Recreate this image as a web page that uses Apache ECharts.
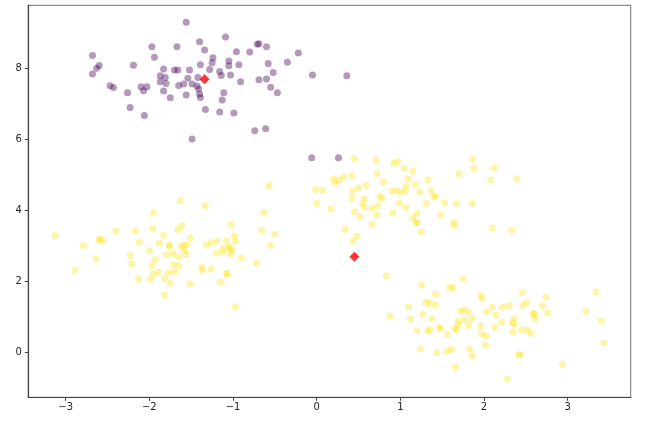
<!DOCTYPE html>
<html>
<head>
    <meta charset="utf-8">
    <title>KMeans scatter</title>
    <script src="https://cdn.jsdelivr.net/npm/echarts@6/dist/echarts.min.js"></script>
    <style>
        html, body { margin: 0; padding: 0; background: #fff; }
        #chart { width: 652px; height: 425px; }
    </style>
</head>
<body>
<div id="chart"></div>
<script>
    // cluster 0 (purple)
    var purplePts = [
        [-1.56, 9.31], [-1.40, 8.76], [-1.97, 8.62], [-1.67, 8.62], [-1.34, 8.53], [-2.68, 8.37],
        [-1.94, 8.32], [-1.24, 8.31], [-1.25, 8.17], [-2.60, 8.09], [-2.19, 8.10], [-1.39, 8.11],
        [-2.63, 8.01], [-1.83, 7.99], [-1.70, 7.96], [-1.66, 7.96], [-1.52, 7.96], [-1.28, 7.98],
        [-1.16, 7.92], [-2.68, 7.85], [-1.87, 7.80], [-1.81, 7.75], [-1.54, 7.73], [-1.42, 7.75],
        [-1.87, 7.63], [-1.80, 7.58], [-1.65, 7.53], [-1.59, 7.57], [-1.49, 7.57], [-1.43, 7.51],
        [-2.47, 7.52], [-2.43, 7.47], [-2.10, 7.49], [-2.07, 7.38], [-2.03, 7.49], [-1.41, 7.43],
        [-1.83, 7.37], [-1.56, 7.26], [-1.40, 7.29], [-1.39, 7.19], [-2.26, 7.32], [-1.75, 7.18],
        [-2.23, 6.91], [-1.33, 6.85], [-1.16, 6.78], [-2.06, 6.68], [-1.49, 6.02],
        [-1.09, 8.89], [-0.71, 8.69], [-0.69, 8.70], [-0.60, 8.62], [-0.96, 8.48], [-0.80, 8.47],
        [-0.22, 8.44], [-1.05, 8.22], [-0.58, 8.15], [-0.35, 8.18], [-0.93, 8.11], [-1.05, 8.08],
        [-1.14, 7.81], [-1.03, 7.82], [-0.05, 7.82], [0.36, 7.80], [-0.52, 7.89], [-0.69, 7.69],
        [-0.60, 7.71], [-0.91, 7.63], [-0.55, 7.48], [-0.47, 7.32], [-1.11, 7.32], [-1.13, 7.12],
        [-0.99, 6.75], [-0.74, 6.25], [-0.61, 6.31], [-0.06, 5.49], [0.26, 5.49]
    ];

    // cluster 1 (yellow): middle blob
    var yellowMid = [
        [0.45, 5.47], [0.71, 5.43], [0.92, 5.34], [0.97, 5.38], [1.05, 5.19], [1.15, 5.11],
        [0.72, 5.05], [0.42, 4.99], [0.32, 4.96], [0.20, 4.90], [0.27, 4.86], [0.22, 4.78],
        [1.09, 4.90], [0.80, 4.80], [1.18, 4.74], [0.59, 4.72], [0.50, 4.64], [1.07, 4.70],
        [-0.01, 4.59], [0.07, 4.58], [0.43, 4.55], [0.90, 4.56], [0.96, 4.56], [1.01, 4.51],
        [1.06, 4.56], [1.23, 4.53], [0.76, 4.41], [0.78, 4.35], [0.42, 4.35], [0.57, 4.34],
        [0.55, 4.21], [0.99, 4.21], [0.00, 4.20], [0.73, 4.14], [0.57, 4.10], [0.66, 4.06],
        [1.07, 4.08], [0.17, 4.05], [0.45, 3.97], [0.91, 3.93], [0.72, 3.87], [0.52, 3.82],
        [1.20, 3.92], [1.15, 3.80], [1.19, 3.67], [1.20, 3.66], [0.66, 3.62], [1.25, 3.40],
        [0.34, 3.47], [0.48, 3.28], [0.43, 3.14], [0.83, 2.16],
        [1.86, 5.46], [1.88, 5.20], [2.12, 5.20], [1.70, 5.04], [2.08, 4.87], [2.39, 4.89],
        [1.33, 4.87], [1.37, 4.56], [1.40, 4.41], [1.42, 4.39], [1.31, 4.20], [1.53, 4.23],
        [1.67, 4.21], [1.86, 4.20], [1.48, 3.88], [1.64, 3.66], [1.65, 3.58], [2.10, 3.51],
        [2.33, 3.45]
    ];

    // cluster 1 (yellow): left blob
    var yellowLeft = [
        [-1.95, 3.94], [-3.13, 3.30], [-2.40, 3.42], [-2.17, 3.43], [-1.96, 3.49], [-1.83, 3.31],
        [-2.59, 3.20], [-2.55, 3.17], [-2.60, 3.16], [-2.79, 3.01], [-2.12, 3.12], [-1.88, 3.09],
        [-1.76, 3.03], [-1.76, 2.99], [-2.00, 2.87], [-2.23, 2.74], [-1.80, 2.76], [-1.72, 2.79],
        [-2.64, 2.65], [-1.93, 2.62], [-2.21, 2.50], [-1.97, 2.45], [-1.71, 2.48], [-2.89, 2.32],
        [-1.89, 2.27], [-1.95, 2.21], [-1.77, 2.25], [-1.70, 2.27], [-2.13, 2.06], [-1.99, 2.07],
        [-1.82, 2.08], [-1.75, 1.96], [-1.82, 1.62],
        [-0.57, 4.70], [-1.63, 4.28], [-1.33, 4.14], [-0.63, 3.96], [-1.02, 3.62], [-1.61, 3.58],
        [-1.66, 3.47], [-0.66, 3.45], [-0.50, 3.34], [-1.51, 3.23], [-0.98, 3.29], [-1.08, 3.15],
        [-0.97, 3.14], [-1.19, 3.15], [-1.26, 3.10], [-1.32, 3.03], [-1.05, 2.98], [-1.04, 2.96],
        [-1.12, 2.94], [-0.55, 3.03], [-1.59, 3.04], [-1.55, 3.03], [-1.62, 2.98], [-1.58, 2.87],
        [-1.01, 2.87], [-1.20, 2.80], [-1.12, 2.83], [-1.03, 2.78], [-1.56, 2.76], [-1.65, 2.70],
        [-0.90, 2.67], [-0.72, 2.52], [-1.65, 2.44], [-1.37, 2.41], [-1.37, 2.34], [-1.26, 2.36],
        [-1.08, 2.23], [-1.07, 2.22], [-1.51, 1.94], [-1.15, 1.99], [-0.97, 1.29]
    ];

    // cluster 1 (yellow): lower right blob
    var yellowLow = [
        [1.26, 1.91], [1.59, 1.84], [1.63, 1.84], [1.75, 2.08], [1.42, 1.65], [1.96, 1.61],
        [1.98, 1.52], [1.31, 1.43], [1.35, 1.39], [1.42, 1.34], [1.10, 1.29], [2.22, 1.28],
        [2.10, 1.27], [1.76, 1.21], [1.72, 1.17], [1.81, 1.15], [2.03, 1.15], [2.14, 1.06],
        [0.88, 1.03], [1.27, 1.08], [1.12, 0.95], [1.38, 0.95], [1.86, 0.97], [1.77, 0.92],
        [1.69, 0.89], [2.21, 0.86], [1.69, 0.80], [1.82, 0.77], [1.96, 0.75], [2.13, 0.72],
        [1.47, 0.72], [1.48, 0.67], [1.35, 0.65], [1.33, 0.61], [1.20, 0.62], [1.65, 0.68],
        [1.67, 0.63], [1.56, 0.51], [1.97, 0.52], [2.03, 0.47], [2.02, 0.22], [1.24, 0.11],
        [1.83, 0.10], [1.61, 0.09], [1.56, 0.04], [1.44, 0.00], [1.86, -0.09], [1.66, -0.41],
        [2.28, -0.74],
        [2.46, 1.69], [3.34, 1.72], [2.74, 1.57], [2.51, 1.41], [2.46, 1.34], [2.30, 1.32],
        [2.70, 1.32], [2.59, 1.11], [2.60, 1.09], [2.76, 1.11], [3.22, 1.16], [2.36, 0.97],
        [2.61, 0.97], [2.34, 0.85], [2.36, 0.81], [3.40, 0.89], [2.45, 0.64], [2.52, 0.64],
        [2.56, 0.54], [2.35, 0.58], [3.43, 0.28], [2.42, -0.05], [2.43, -0.06], [2.94, -0.33]
    ];

    // cluster centres (red diamonds)
    var centers = [[-1.34, 7.70], [0.45, 2.70]];

    var xTicks = [-3, -2, -1, 0, 1, 2, 3];
    var yTicks = [0, 2, 4, 6, 8];

    function minus(v) {
        return String(v).replace('-', '\u2212');
    }

    var axisFont = { fontFamily: 'DejaVu Sans', fontSize: 10, color: '#262626' };

    var myChart = echarts.init(document.getElementById('chart'));
    myChart.setOption({
        animation: false,
        backgroundColor: '#fff',
        grid: {
            left: 28.3, right: 21.3, top: 5.3, bottom: 27.7,
            show: true, borderColor: '#8c8c8c', borderWidth: 1.2
        },
        xAxis: {
            type: 'value',
            min: -3.447, max: 3.753,
            splitLine: { show: false },
            axisLine: { onZero: false, lineStyle: { color: '#444', width: 1.2 } },
            axisTick: { show: true, length: 3.5, customValues: xTicks, lineStyle: { color: '#444' } },
            axisLabel: Object.assign({ margin: 5, customValues: xTicks, formatter: minus }, axisFont)
        },
        yAxis: {
            type: 'value',
            min: -1.256, max: 9.786,
            splitLine: { show: false },
            axisLine: { show: true, onZero: false, lineStyle: { color: '#444', width: 1.2 } },
            axisTick: { show: true, length: 3.5, customValues: yTicks, lineStyle: { color: '#444' } },
            axisLabel: Object.assign({ margin: 6.5, customValues: yTicks, formatter: minus }, axisFont)
        },
        series: [{
            type: 'scatter',
            data: purplePts,
            symbolSize: 7,
            itemStyle: { color: 'rgba(68, 1, 84, 0.5)' }
        }, {
            type: 'scatter',
            data: yellowMid.concat(yellowLeft, yellowLow),
            symbolSize: 7,
            itemStyle: { color: 'rgba(253, 231, 37, 0.5)' }
        }, {
            type: 'scatter',
            data: centers,
            symbol: 'diamond',
            symbolSize: [10, 10],
            z: 5,
            itemStyle: { color: '#ff0000' }
        }]
    });
</script>
</body>
</html>
